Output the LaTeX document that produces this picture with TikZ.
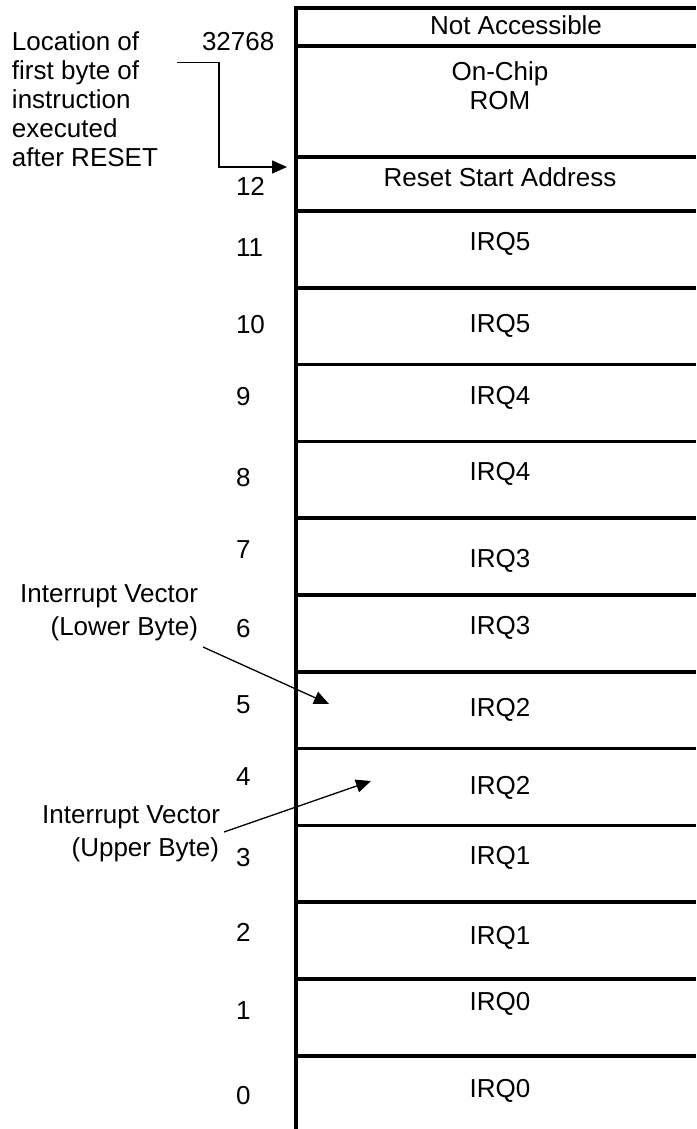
\documentclass[tikz,border=0pt]{standalone}
\usepackage{fontspec}
\setmainfont{Liberation Sans}
\usetikzlibrary{arrows.meta}
\begin{document}
\begin{tikzpicture}[x=1pt,y=-1pt,
  lbl/.style={inner sep=0pt,outer sep=0pt,font=\fontsize{26}{30}\selectfont},
  cell/.style={lbl,anchor=base},
  num/.style={lbl,anchor=base west},
  lft/.style={lbl,anchor=base west},
  rgt/.style={lbl,anchor=base east},
  wall/.style={line width=3.6pt},
  sep/.style={line width=3.6pt},
  arr/.style={line width=1.3pt,-{Triangle[length=15pt,width=13pt]}}]
\useasboundingbox (0,0) rectangle (696,1129);
% memory map lines
\draw[wall] (296,6.2) -- (296,1129);
\foreach \yy in {8,46,157,211,287.8,364.6,441.4,518.2,595,671.8,748.6,825.4,902.2,979,1055.8}
  \draw[sep] (294.2,\yy) -- (696,\yy);
% cell contents
\node[cell] (na) at (516,35) {Not Accessible};
\node[cell] (oc) at (500,81) {On-Chip};
\node[cell] (rom) at (500,110) {ROM};
\node[cell] (rsa) at (500,186) {Reset Start Address};
\node[cell] (q11) at (500,250) {IRQ5};
\node[cell] (q10) at (500,332) {IRQ5};
\node[cell] (q9) at (500,404) {IRQ4};
\node[cell] (q8) at (500,480) {IRQ4};
\node[cell] (q7) at (500,567) {IRQ3};
\node[cell] (q6) at (500,634) {IRQ3};
\node[cell] (q5) at (500,716) {IRQ2};
\node[cell] (q4) at (500,794) {IRQ2};
\node[cell] (q3) at (500,864) {IRQ1};
\node[cell] (q2) at (500,944) {IRQ1};
\node[cell] (q1) at (500,1010) {IRQ0};
\node[cell] (q0) at (500,1097) {IRQ0};
% addresses
\node[num] (a32768) at (202,51) {32768};
\node[num] (a12) at (236,195) {12};
\node[num] (a11) at (236,256) {11};
\node[num] (a10) at (236,333) {10};
\node[num] (a9) at (236,405) {9};
\node[num] (a8) at (236,486) {8};
\node[num] (a7) at (236,558) {7};
\node[num] (a6) at (236,637) {6};
\node[num] (a5) at (236,713) {5};
\node[num] (a4) at (236,785) {4};
\node[num] (a3) at (236,866) {3};
\node[num] (a2) at (236,941) {2};
\node[num] (a1) at (236,1019) {1};
\node[num] (a0) at (236,1104) {0};
% left annotations
\node[lft] (loc1) at (12,50.5) {Location of};
\node[lft] (loc2) at (12,79.5) {first byte of};
\node[lft] (loc3) at (12,108.5) {instruction};
\node[lft] (loc4) at (12,137.5) {executed};
\node[lft] (loc5) at (12,166.5) {after RESET};
\node[rgt] (lb1) at (198,602) {Interrupt Vector};
\node[rgt] (lb2) at (198,635) {(Lower Byte)};
\node[rgt] (ub1) at (220,823) {Interrupt Vector};
\node[rgt] (ub2) at (219,856) {(Upper Byte)};
% arrows
\coordinate (rs) at (177,62.5);
\coordinate (rt) at (287,167);
\draw[arr] (rs) -- (219,62.5) |- (rt);
\coordinate (lbs) at (203,647);
\coordinate (lbt) at (329,704);
\draw[arr] (lbs) -- (lbt);
\coordinate (ubs) at (224,832);
\coordinate (ubt) at (371,781);
\draw[arr] (ubs) -- (ubt);
\end{tikzpicture}
\end{document}
